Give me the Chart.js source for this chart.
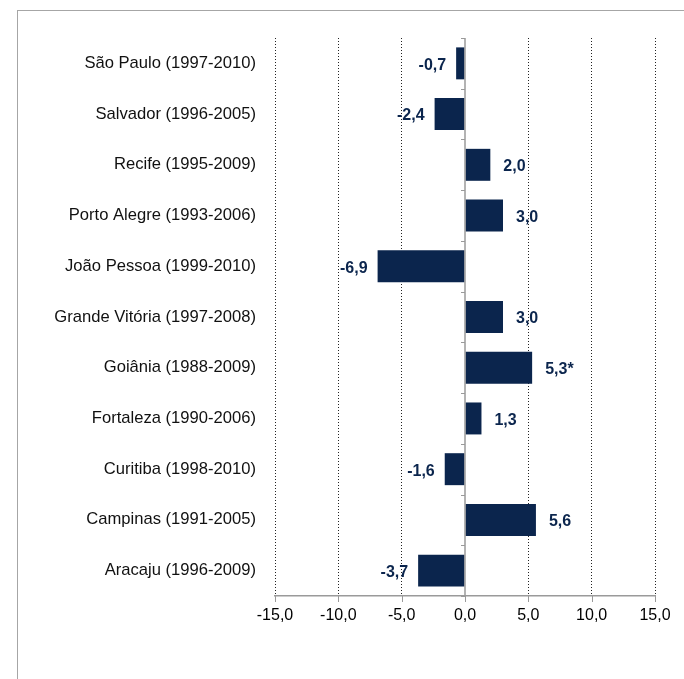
<!DOCTYPE html>
<html>
<head>
<meta charset="utf-8">
<script src="https://cdn.jsdelivr.net/npm/chart.js@4/dist/chart.umd.min.js"></script>
<style>
  html, body { margin: 0; padding: 0; background: #fff; }
  #wrap { position: relative; width: 684px; height: 679px; overflow: hidden; }
  #frame { position: absolute; left: 17px; top: 10px; width: 800px; height: 800px;
           border-left: 1px solid #a6a6a6; border-top: 1px solid #a6a6a6; pointer-events: none; }
  canvas { position: absolute; left: 0; top: 0; }
</style>
</head>
<body>
<div id="wrap">
  <canvas id="c" width="684" height="679"></canvas>
  <div id="frame"></div>
</div>
<script>
const categories = [
  'São Paulo (1997-2010)',
  'Salvador (1996-2005)',
  'Recife (1995-2009)',
  'Porto Alegre (1993-2006)',
  'João Pessoa (1999-2010)',
  'Grande Vitória (1997-2008)',
  'Goiânia (1988-2009)',
  'Fortaleza (1990-2006)',
  'Curitiba (1998-2010)',
  'Campinas (1991-2005)',
  'Aracaju (1996-2009)'
];
const values = [-0.7, -2.4, 2.0, 3.0, -6.9, 3.0, 5.3, 1.3, -1.6, 5.6, -3.7];
const valueNotes = ['', '', '', '', '', '', '*', '', '', '', ''];
const xTicks = [-15, -10, -5, 0, 5, 10, 15];

const NAVY = '#0b254d';
const fmt = v => v.toFixed(1).replace('.', ',');

const overlay = {
  id: 'overlay',
  afterDatasetsDraw(chart) {
    const ctx = chart.ctx;
    const xs = chart.scales.x, ys = chart.scales.y;
    const area = chart.chartArea;
    const x0 = xs.getPixelForValue(0);
    ctx.save();
    // x-axis tick marks (solid)
    ctx.strokeStyle = '#9a9a9a';
    ctx.lineWidth = 1;
    xTicks.forEach(v => {
      const x = Math.round(xs.getPixelForValue(v)) + 0.5;
      ctx.beginPath();
      ctx.moveTo(x, area.bottom);
      ctx.lineTo(x, area.bottom + 6);
      ctx.stroke();
    });
    // zero line
    ctx.lineWidth = 1.5;
    ctx.beginPath();
    ctx.moveTo(x0, area.top);
    ctx.lineTo(x0, area.bottom);
    ctx.stroke();
    // category boundary ticks on zero line
    ctx.lineWidth = 1;
    for (let i = 0; i <= categories.length; i++) {
      let y;
      if (i === 0) y = area.top;
      else if (i === categories.length) y = area.bottom;
      else y = (ys.getPixelForValue(i - 1) + ys.getPixelForValue(i)) / 2;
      y = Math.round(y) + 0.5;
      ctx.beginPath();
      ctx.moveTo(x0 - 4, y);
      ctx.lineTo(x0, y);
      ctx.stroke();
    }
    // value labels
    ctx.font = 'bold 16px "Liberation Sans", Arial, sans-serif';
    ctx.fillStyle = NAVY;
    ctx.textBaseline = 'middle';
    const meta = chart.getDatasetMeta(0);
    meta.data.forEach((bar, i) => {
      const v = values[i];
      const txt = fmt(v) + valueNotes[i];
      if (v >= 0) {
        ctx.textAlign = 'left';
        ctx.fillText(txt, bar.x + 13, bar.y + 2);
      } else {
        ctx.textAlign = 'right';
        ctx.fillText(txt, bar.x - 10, bar.y + 2);
      }
    });
    ctx.restore();
  }
};

new Chart(document.getElementById('c'), {
  type: 'bar',
  data: {
    labels: categories,
    datasets: [{
      data: values,
      backgroundColor: NAVY,
      borderWidth: 0,
      barPercentage: 0.63,
      categoryPercentage: 1.0
    }]
  },
  options: {
    indexAxis: 'y',
    responsive: false,
    animation: false,
    devicePixelRatio: 1,
    layout: { padding: { top: 38, right: 29, left: 0, bottom: 0 } },
    plugins: { legend: { display: false }, tooltip: { enabled: false } },
    scales: {
      x: {
        min: -15, max: 15,
        afterBuildTicks(scale) { scale.ticks = xTicks.map(v => ({ value: v })); },
        afterFit(scale) { scale.height = 83; },
        ticks: {
          color: '#000',
          font: { family: '"Liberation Sans", Arial, sans-serif', size: 16 },
          padding: 4,
          callback: v => fmt(v)
        },
        grid: {
          color: ctx => (ctx.tick && ctx.tick.value === 0) ? 'rgba(0,0,0,0)' : '#222',
          lineWidth: 1,
          drawTicks: true,
          tickLength: 6,
          tickColor: 'rgba(0,0,0,0)'
        },
        border: { display: true, color: '#9a9a9a', width: 1.5, dash: [1, 2] }
      },
      y: {
        afterFit(scale) { scale.width = 275; },
        ticks: {
          color: '#111',
          font: { family: '"Liberation Sans", Arial, sans-serif', size: 16.6 },
          padding: 19
        },
        grid: { display: false, drawTicks: false },
        border: { display: false }
      }
    }
  },
  plugins: [overlay]
});
</script>
</body>
</html>
